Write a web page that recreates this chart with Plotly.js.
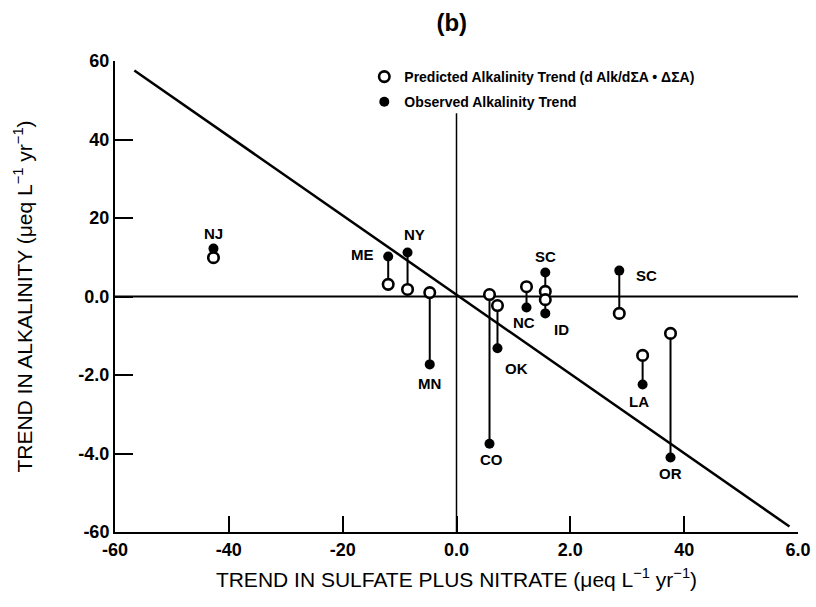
<!DOCTYPE html>
<html>
<head>
<meta charset="utf-8">
<script src="https://cdn.plot.ly/plotly-3.0.1.min.js"></script>
<style>html,body{margin:0;padding:0;background:#fff;}#chart{width:816px;height:607px;}</style>
</head>
<body>
<div id="chart"></div>
<script>
// ---- data ----
const states = ['NJ','ME','NY','MN','CO','OK','NC','SC','ID','SC','LA','OR'];
const sulfateTrend = [-4.27,-1.20,-0.86,-0.47,0.58,0.72,1.23,1.56,1.56,2.86,3.27,3.76];
const predictedAlk = [0.99,0.31,0.18,0.10,0.05,-0.23,0.25,0.13,-0.08,-0.43,-1.50,-0.94];
const observedAlk  = [1.22,1.02,1.12,-1.73,-3.75,-1.32,-0.28,0.61,-0.43,0.66,-2.24,-4.10];
const fitLineX = [-5.66, 5.85];
const fitLineY = [5.76, -5.86];
const xTickVals = [-6,-4,-2,0,2,4,6];
const xTickText = ['-60','-40','-20','0.0','2.0','40','6.0'];
const yTickVals = [-6,-4,-2,0,2,4,6];
const yTickText = ['-60','-4.0','-2.0','0.0','20','40','60'];
const predictedName = 'Predicted Alkalinity Trend (d Alk/dΣA • ΔΣA)';
const observedName = 'Observed Alkalinity Trend';
// label offsets (pixels) relative to observed point
const labelShiftX = [0,-26,7,0,2,19,-3,0,16,27,-4,0];
const labelShiftY = [15,2,18,-19,-16,-20,-15,16,-16,-5,-17,-16];

const FONT = 'Liberation Sans, Arial, sans-serif';

// connectors
const cx = [], cy = [];
states.forEach((s,i)=>{ cx.push(sulfateTrend[i], sulfateTrend[i], null); cy.push(predictedAlk[i], observedAlk[i], null); });

const traces = [
  {x: fitLineX, y: fitLineY, mode:'lines', line:{color:'#000', width:2.5}, showlegend:false, hoverinfo:'skip'},
  {x: cx, y: cy, mode:'lines', line:{color:'#000', width:2}, showlegend:false, hoverinfo:'skip', connectgaps:false},
  {x: sulfateTrend, y: observedAlk, mode:'markers', name: observedName, legendgroup:'b', legendrank:2,
   marker:{symbol:'circle', size:10, color:'#000', line:{width:0}}},
  {x: sulfateTrend, y: predictedAlk, mode:'markers', name: predictedName, legendgroup:'a', legendrank:1,
   marker:{symbol:'circle', size:10.5, color:'#fff', line:{color:'#000', width:2.6}}}
];

const annotations = states.map((s,i)=>({
  x: sulfateTrend[i], y: observedAlk[i], xref:'x', yref:'y', text: s, showarrow:false,
  xshift: labelShiftX[i], yshift: labelShiftY[i],
  font:{family:FONT, size:15, color:'#000', weight:'bold'}
}));

const layout = {
  width:816, height:607,
  margin:{l:115, r:18, t:61, b:75},
  paper_bgcolor:'#fff', plot_bgcolor:'#fff',
  font:{family:FONT, color:'#000'},
  title:{text:'(b)', font:{family:FONT, size:24, weight:'bold'}, xref:'paper', x:0.493, xanchor:'center', yref:'container', y:0.962, yanchor:'middle'},
  xaxis:{range:[-6,6], tickvals:xTickVals, ticktext:xTickText, ticks:'inside', ticklen:16, tickwidth:2, tickcolor:'#000',
         showline:true, linecolor:'#000', linewidth:2, showgrid:false, zeroline:false, mirror:false,
         tickfont:{family:FONT, size:18, weight:'bold'},
         title:{text:'TREND IN SULFATE PLUS NITRATE (μeq L<sup>−1</sup> yr<sup>−1</sup>)', font:{family:FONT, size:21}, standoff:14}},
  yaxis:{range:[-6,6], tickvals:yTickVals, ticktext:yTickText, ticks:'inside', ticklen:18, tickwidth:2, tickcolor:'#000',
         showline:true, linecolor:'#000', linewidth:2, showgrid:false, zeroline:false, mirror:false,
         tickfont:{family:FONT, size:18, weight:'bold'},
         title:{text:'TREND IN ALKALINITY (μeq L<sup>−1</sup> yr<sup>−1</sup>)', font:{family:FONT, size:21}, standoff:40}},
  shapes:[
    {type:'line', xref:'x', yref:'y', x0:-6, x1:6, y0:0, y1:0, line:{color:'#000', width:2}, layer:'below'},
    {type:'line', xref:'x', yref:'y', x0:0, x1:0, y0:-6, y1:4.67, line:{color:'#000', width:1.5}, layer:'below'}
  ],
  legend:{x:0.365, y:1.0, xanchor:'left', yanchor:'top', traceorder:'grouped', tracegroupgap:4,
          bgcolor:'rgba(0,0,0,0)', font:{family:FONT, size:14, weight:'bold'}, itemwidth:30},
  annotations: annotations,
  showlegend:true
};

Plotly.newPlot('chart', traces, layout, {displayModeBar:false, staticPlot:true});
</script>
</body>
</html>
